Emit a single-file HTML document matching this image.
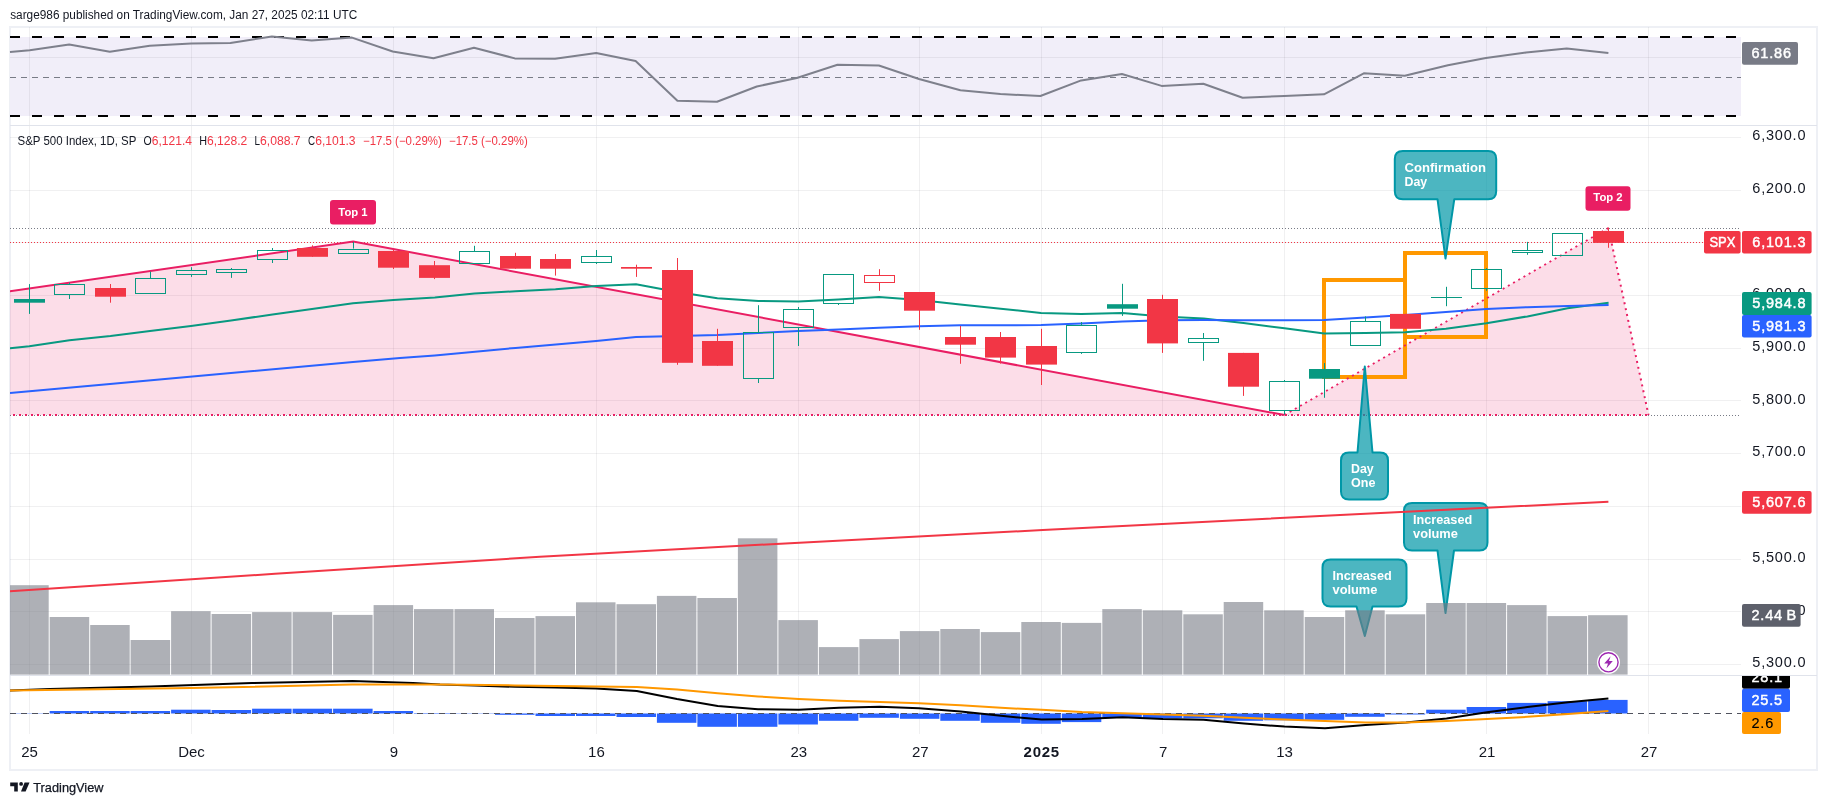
<!DOCTYPE html>
<html><head><meta charset="utf-8"><title>SPX chart</title>
<style>html,body{margin:0;padding:0;background:#fff;}body{width:1827px;height:805px;position:relative;overflow:hidden;font-family:"Liberation Sans", sans-serif;}</style></head>
<body>
<svg width="1827" height="805" viewBox="0 0 1827 805" style="position:absolute;left:0;top:0;font-family:'Liberation Sans', sans-serif;">
<defs><filter id="noop" filterUnits="userSpaceOnUse" x="0" y="0" width="1827" height="805"><feOffset dx="0" dy="0"/></filter><clipPath id="cm"><rect x="10" y="126" width="1731" height="549"/></clipPath><clipPath id="cd"><rect x="10" y="676" width="1807" height="58"/></clipPath></defs>
<rect width="1827" height="805" fill="#fff"/>
<g filter="url(#noop)">
<rect x="9" y="26" width="1809" height="2" fill="#eef0f5"/>
<rect x="9" y="769" width="1809" height="2" fill="#eef0f5"/>
<rect x="9" y="26" width="2" height="745" fill="#eef0f5"/>
<rect x="1816" y="26" width="2" height="745" fill="#eef0f5"/>
<rect x="10" y="37" width="1731" height="79" fill="#f1eef9"/>
<line x1="29.5" y1="27" x2="29.5" y2="734" stroke="rgba(42,46,57,0.07)" stroke-width="1"/>
<line x1="191.5" y1="27" x2="191.5" y2="734" stroke="rgba(42,46,57,0.07)" stroke-width="1"/>
<line x1="393.5" y1="27" x2="393.5" y2="734" stroke="rgba(42,46,57,0.07)" stroke-width="1"/>
<line x1="596.5" y1="27" x2="596.5" y2="734" stroke="rgba(42,46,57,0.07)" stroke-width="1"/>
<line x1="798.5" y1="27" x2="798.5" y2="734" stroke="rgba(42,46,57,0.07)" stroke-width="1"/>
<line x1="919.5" y1="27" x2="919.5" y2="734" stroke="rgba(42,46,57,0.07)" stroke-width="1"/>
<line x1="1041.5" y1="27" x2="1041.5" y2="734" stroke="rgba(42,46,57,0.07)" stroke-width="1"/>
<line x1="1162.5" y1="27" x2="1162.5" y2="734" stroke="rgba(42,46,57,0.07)" stroke-width="1"/>
<line x1="1284.5" y1="27" x2="1284.5" y2="734" stroke="rgba(42,46,57,0.07)" stroke-width="1"/>
<line x1="1486.5" y1="27" x2="1486.5" y2="734" stroke="rgba(42,46,57,0.07)" stroke-width="1"/>
<line x1="1648.5" y1="27" x2="1648.5" y2="734" stroke="rgba(42,46,57,0.07)" stroke-width="1"/>
<line x1="10" y1="664.5" x2="1741" y2="664.5" stroke="rgba(42,46,57,0.07)" stroke-width="1"/>
<line x1="10" y1="611.5" x2="1741" y2="611.5" stroke="rgba(42,46,57,0.07)" stroke-width="1"/>
<line x1="10" y1="559.5" x2="1741" y2="559.5" stroke="rgba(42,46,57,0.07)" stroke-width="1"/>
<line x1="10" y1="506.5" x2="1741" y2="506.5" stroke="rgba(42,46,57,0.07)" stroke-width="1"/>
<line x1="10" y1="453.5" x2="1741" y2="453.5" stroke="rgba(42,46,57,0.07)" stroke-width="1"/>
<line x1="10" y1="400.5" x2="1741" y2="400.5" stroke="rgba(42,46,57,0.07)" stroke-width="1"/>
<line x1="10" y1="348.5" x2="1741" y2="348.5" stroke="rgba(42,46,57,0.07)" stroke-width="1"/>
<line x1="10" y1="295.5" x2="1741" y2="295.5" stroke="rgba(42,46,57,0.07)" stroke-width="1"/>
<line x1="10" y1="242.5" x2="1741" y2="242.5" stroke="rgba(42,46,57,0.07)" stroke-width="1"/>
<line x1="10" y1="190.5" x2="1741" y2="190.5" stroke="rgba(42,46,57,0.07)" stroke-width="1"/>
<line x1="10" y1="137.5" x2="1741" y2="137.5" stroke="rgba(42,46,57,0.07)" stroke-width="1"/>
<line x1="10" y1="57.5" x2="1741" y2="57.5" stroke="rgba(42,46,57,0.07)" stroke-width="1"/>
<line x1="10" y1="37" x2="1741" y2="37" stroke="#000" stroke-width="2" stroke-dasharray="10 12"/>
<line x1="10" y1="116" x2="1741" y2="116" stroke="#000" stroke-width="2" stroke-dasharray="10 12"/>
<line x1="10" y1="77.5" x2="1741" y2="77.5" stroke="#787b86" stroke-width="1" stroke-dasharray="6 5"/>
<polyline points="10.0,52.0 29.7,50.2 69.2,44.4 109.8,51.7 149.8,45.7 191.3,43.4 230.4,42.9 271.9,36.4 311.7,40.6 352.0,37.6 392.7,51.5 433.5,58.3 474.0,47.8 514.8,58.4 555.1,58.7 596.2,52.9 635.6,61.1 677.4,100.8 717.0,101.8 756.8,86.5 796.8,78.0 837.5,64.8 878.9,65.5 919.0,79.0 960.4,90.3 1000.4,94.0 1040.4,96.0 1081.2,80.4 1121.9,74.0 1161.6,85.9 1203.3,83.8 1242.6,97.7 1284.4,96.0 1324.0,94.3 1363.8,73.3 1404.8,75.7 1447.9,65.2 1485.9,58.0 1526.0,52.6 1566.7,48.5 1608.4,52.9" fill="none" stroke="#7e808c" stroke-width="2" stroke-linejoin="round"/>
<g clip-path="url(#cm)">
<polygon points="10.0,291.3 353.2,241.6 1284.5,415.0 10.0,415.0" fill="rgba(233,30,99,0.15)"/>
<polygon points="1284.5,415.0 1608.4,228.0 1648.5,415.0" fill="rgba(233,30,99,0.15)"/>
<rect x="1324" y="280" width="81" height="97" fill="none" stroke="#ff9800" stroke-width="4"/>
<rect x="1405" y="253" width="81" height="84" fill="none" stroke="#ff9800" stroke-width="4"/>
<line x1="10" y1="228.5" x2="1739" y2="228.5" stroke="#787b86" stroke-width="1" stroke-dasharray="1 2"/>
<line x1="10" y1="415.5" x2="1739" y2="415.5" stroke="#787b86" stroke-width="1" stroke-dasharray="1 2"/>
<line x1="10" y1="242.5" x2="1704" y2="242.5" stroke="#f23645" stroke-width="1" stroke-dasharray="1 2"/>
<line x1="7" y1="415" x2="1648.5" y2="415" stroke="#e91e63" stroke-width="2" stroke-dasharray="2 4"/>
<polyline points="-10.0,294.2 353.2,241.6 1284.5,415.0" fill="none" stroke="#e91e63" stroke-width="2" stroke-linejoin="miter"/>
<polyline points="1284.5,415.0 1608.4,228.0 1648.5,415.0" fill="none" stroke="#e91e63" stroke-width="2" stroke-dasharray="2 4"/>
<path d="M1402.8,151 L1488.2,151 Q1496.2,151 1496.2,159 L1496.2,191.2 Q1496.2,199.2 1488.2,199.2 L1454.3,199.2 L1445.5,258.5 L1437.5,199.2 L1402.8,199.2 Q1394.8,199.2 1394.8,191.2 L1394.8,159 Q1394.8,151 1402.8,151 Z" fill="rgba(0,151,167,0.7)" stroke="#0097a7" stroke-width="2" stroke-linejoin="round"/>
<text x="1404.5" y="172" font-size="13.2" font-weight="bold" fill="#fff" textLength="81.4" lengthAdjust="spacingAndGlyphs">Confirmation</text>
<text x="1404.5" y="186" font-size="13.2" font-weight="bold" fill="#fff" textLength="22.7" lengthAdjust="spacingAndGlyphs">Day</text>
<path d="M1349,452.5 L1357.5,452.5 L1364.8,366.5 L1372.5,452.5 L1380,452.5 Q1388,452.5 1388,460.5 L1388,491.5 Q1388,499.5 1380,499.5 L1349,499.5 Q1341,499.5 1341,491.5 L1341,460.5 Q1341,452.5 1349,452.5 Z" fill="rgba(0,151,167,0.7)" stroke="#0097a7" stroke-width="2" stroke-linejoin="round"/>
<text x="1351" y="473" font-size="13.2" font-weight="bold" fill="#fff" textLength="22.7" lengthAdjust="spacingAndGlyphs">Day</text>
<text x="1351" y="487" font-size="13.2" font-weight="bold" fill="#fff" textLength="24.4" lengthAdjust="spacingAndGlyphs">One</text>
<path d="M1330.5,559.5 L1398.5,559.5 Q1406.5,559.5 1406.5,567.5 L1406.5,598.5 Q1406.5,606.5 1398.5,606.5 L1372.5,606.5 L1364.8,636 L1356.5,606.5 L1330.5,606.5 Q1322.5,606.5 1322.5,598.5 L1322.5,567.5 Q1322.5,559.5 1330.5,559.5 Z" fill="rgba(0,151,167,0.7)" stroke="#0097a7" stroke-width="2" stroke-linejoin="round"/>
<text x="1332.5" y="580" font-size="13.2" font-weight="bold" fill="#fff" textLength="59.2" lengthAdjust="spacingAndGlyphs">Increased</text>
<text x="1332.5" y="594" font-size="13.2" font-weight="bold" fill="#fff" textLength="44.9" lengthAdjust="spacingAndGlyphs">volume</text>
<path d="M1412,503 L1479.5,503 Q1487.5,503 1487.5,511 L1487.5,542.5 Q1487.5,550.5 1479.5,550.5 L1454,550.5 L1445.5,613 L1437.5,550.5 L1412,550.5 Q1404,550.5 1404,542.5 L1404,511 Q1404,503 1412,503 Z" fill="rgba(0,151,167,0.7)" stroke="#0097a7" stroke-width="2" stroke-linejoin="round"/>
<text x="1413" y="524" font-size="13.2" font-weight="bold" fill="#fff" textLength="59.2" lengthAdjust="spacingAndGlyphs">Increased</text>
<text x="1413" y="538" font-size="13.2" font-weight="bold" fill="#fff" textLength="44.9" lengthAdjust="spacingAndGlyphs">volume</text>
<rect x="330" y="200" width="46" height="24.5" rx="3" fill="#e91e63"/>
<text x="353" y="216.3" font-size="11.3" font-weight="bold" fill="#fff" text-anchor="middle">Top 1</text>
<rect x="1585.5" y="186.3" width="45" height="24.5" rx="3" fill="#e91e63"/>
<text x="1608" y="201.4" font-size="11.3" font-weight="bold" fill="#fff" text-anchor="middle">Top 2</text>
<rect x="10.0" y="585.2" width="38.7" height="89.4" fill="rgba(120,123,134,0.6)"/>
<rect x="49.7" y="617.0" width="39.5" height="57.6" fill="rgba(120,123,134,0.6)"/>
<rect x="90.2" y="625.0" width="39.5" height="49.6" fill="rgba(120,123,134,0.6)"/>
<rect x="130.6" y="640.0" width="39.5" height="34.6" fill="rgba(120,123,134,0.6)"/>
<rect x="171.1" y="611.2" width="39.5" height="63.4" fill="rgba(120,123,134,0.6)"/>
<rect x="211.6" y="614.0" width="39.5" height="60.6" fill="rgba(120,123,134,0.6)"/>
<rect x="252.1" y="612.1" width="39.5" height="62.5" fill="rgba(120,123,134,0.6)"/>
<rect x="292.6" y="612.1" width="39.5" height="62.5" fill="rgba(120,123,134,0.6)"/>
<rect x="333.1" y="614.9" width="39.5" height="59.7" fill="rgba(120,123,134,0.6)"/>
<rect x="373.6" y="605.1" width="39.5" height="69.5" fill="rgba(120,123,134,0.6)"/>
<rect x="414.0" y="609.1" width="39.5" height="65.5" fill="rgba(120,123,134,0.6)"/>
<rect x="454.5" y="609.1" width="39.5" height="65.5" fill="rgba(120,123,134,0.6)"/>
<rect x="495.0" y="618.0" width="39.5" height="56.6" fill="rgba(120,123,134,0.6)"/>
<rect x="535.5" y="616.1" width="39.5" height="58.5" fill="rgba(120,123,134,0.6)"/>
<rect x="576.0" y="602.3" width="39.5" height="72.3" fill="rgba(120,123,134,0.6)"/>
<rect x="616.5" y="604.2" width="39.5" height="70.4" fill="rgba(120,123,134,0.6)"/>
<rect x="656.9" y="595.9" width="39.5" height="78.7" fill="rgba(120,123,134,0.6)"/>
<rect x="697.4" y="598.0" width="39.5" height="76.6" fill="rgba(120,123,134,0.6)"/>
<rect x="737.9" y="538.3" width="39.5" height="136.3" fill="rgba(120,123,134,0.6)"/>
<rect x="778.4" y="620.1" width="39.5" height="54.5" fill="rgba(120,123,134,0.6)"/>
<rect x="818.9" y="647.1" width="39.5" height="27.5" fill="rgba(120,123,134,0.6)"/>
<rect x="859.4" y="639.1" width="39.5" height="35.5" fill="rgba(120,123,134,0.6)"/>
<rect x="899.9" y="631.1" width="39.5" height="43.5" fill="rgba(120,123,134,0.6)"/>
<rect x="940.3" y="629.0" width="39.5" height="45.6" fill="rgba(120,123,134,0.6)"/>
<rect x="980.8" y="632.1" width="39.5" height="42.5" fill="rgba(120,123,134,0.6)"/>
<rect x="1021.3" y="622.0" width="39.5" height="52.6" fill="rgba(120,123,134,0.6)"/>
<rect x="1061.8" y="622.9" width="39.5" height="51.7" fill="rgba(120,123,134,0.6)"/>
<rect x="1102.3" y="609.1" width="39.5" height="65.5" fill="rgba(120,123,134,0.6)"/>
<rect x="1142.8" y="610.3" width="39.5" height="64.3" fill="rgba(120,123,134,0.6)"/>
<rect x="1183.3" y="614.3" width="39.5" height="60.3" fill="rgba(120,123,134,0.6)"/>
<rect x="1223.7" y="602.0" width="39.5" height="72.6" fill="rgba(120,123,134,0.6)"/>
<rect x="1264.2" y="610.3" width="39.5" height="64.3" fill="rgba(120,123,134,0.6)"/>
<rect x="1304.7" y="617.0" width="39.5" height="57.6" fill="rgba(120,123,134,0.6)"/>
<rect x="1345.2" y="610.3" width="39.5" height="64.3" fill="rgba(120,123,134,0.6)"/>
<rect x="1385.7" y="614.3" width="39.5" height="60.3" fill="rgba(120,123,134,0.6)"/>
<rect x="1426.2" y="603.0" width="39.5" height="71.6" fill="rgba(120,123,134,0.6)"/>
<rect x="1466.6" y="603.0" width="39.5" height="71.6" fill="rgba(120,123,134,0.6)"/>
<rect x="1507.1" y="605.1" width="39.5" height="69.5" fill="rgba(120,123,134,0.6)"/>
<rect x="1547.6" y="616.1" width="39.5" height="58.5" fill="rgba(120,123,134,0.6)"/>
<rect x="1588.1" y="615.2" width="39.5" height="59.4" fill="rgba(120,123,134,0.6)"/>
<polyline points="10.0,591.3 275.0,573.8 540.0,556.7 790.0,543.2 1042.7,530.0 1325.0,515.7 1608.4,501.8" fill="none" stroke="#f23645" stroke-width="2"/>
<polyline points="10.0,348.2 29.3,346.2 69.5,340.2 110.5,336.0 150.0,331.0 191.0,326.0 231.0,320.6 272.5,314.4 312.0,309.0 353.0,303.2 393.4,300.0 434.8,297.5 474.5,293.5 515.5,291.3 555.5,289.3 596.2,286.1 636.0,284.3 677.4,292.0 717.4,298.2 758.4,301.0 798.4,301.5 838.5,299.5 879.0,297.0 919.2,300.0 960.2,304.5 1000.7,308.7 1041.0,312.9 1081.4,313.9 1122.4,313.1 1162.6,316.4 1203.6,318.4 1243.5,323.1 1284.5,328.3 1324.2,333.5 1365.2,333.0 1405.4,332.3 1445.9,328.8 1486.4,323.3 1527.4,316.4 1567.6,308.2 1608.6,302.7" fill="none" stroke="#089981" stroke-width="2" stroke-linejoin="round"/>
<polyline points="10.0,393.1 110.0,384.0 231.0,373.0 353.0,362.0 400.0,357.9 434.8,355.4 515.5,347.9 596.2,341.0 636.0,337.0 677.4,336.0 717.4,335.0 758.4,333.0 798.4,331.0 838.5,329.5 879.0,327.8 919.2,326.3 960.0,325.3 1000.7,325.3 1041.0,325.0 1081.4,323.6 1122.4,321.6 1162.6,320.3 1203.6,319.9 1243.5,320.3 1284.5,320.3 1324.2,319.9 1365.2,317.4 1405.4,315.1 1445.9,311.9 1486.4,308.9 1527.4,307.2 1567.6,305.9 1608.6,304.9" fill="none" stroke="#2962ff" stroke-width="2" stroke-linejoin="round"/>
<line x1="29.5" y1="284.1" x2="29.5" y2="313.9" stroke="#089981" stroke-width="1"/>
<rect x="14" y="299.0" width="31" height="3.7" fill="#089981"/>
<line x1="69.5" y1="282.6" x2="69.5" y2="284.3" stroke="#089981" stroke-width="1"/>
<line x1="69.5" y1="294.5" x2="69.5" y2="299.0" stroke="#089981" stroke-width="1"/>
<rect x="54.5" y="284.5" width="30" height="10" fill="none" stroke="#089981" stroke-width="1"/>
<line x1="110.5" y1="284.0" x2="110.5" y2="302.7" stroke="#f23645" stroke-width="1"/>
<rect x="95" y="288.0" width="31" height="8.7" fill="#f23645"/>
<line x1="150.5" y1="271.7" x2="150.5" y2="278.4" stroke="#089981" stroke-width="1"/>
<rect x="135.5" y="278.5" width="30" height="15" fill="none" stroke="#089981" stroke-width="1"/>
<line x1="191.5" y1="267.2" x2="191.5" y2="270.4" stroke="#089981" stroke-width="1"/>
<line x1="191.5" y1="274.4" x2="191.5" y2="276.9" stroke="#089981" stroke-width="1"/>
<rect x="176.5" y="270.5" width="30" height="4" fill="none" stroke="#089981" stroke-width="1"/>
<line x1="231.5" y1="268.0" x2="231.5" y2="269.4" stroke="#089981" stroke-width="1"/>
<line x1="231.5" y1="272.4" x2="231.5" y2="277.9" stroke="#089981" stroke-width="1"/>
<rect x="216.5" y="269.5" width="30" height="3" fill="none" stroke="#089981" stroke-width="1"/>
<line x1="272.5" y1="248.0" x2="272.5" y2="250.3" stroke="#089981" stroke-width="1"/>
<line x1="272.5" y1="259.5" x2="272.5" y2="263.0" stroke="#089981" stroke-width="1"/>
<rect x="257.5" y="250.5" width="30" height="9" fill="none" stroke="#089981" stroke-width="1"/>
<line x1="312.5" y1="245.3" x2="312.5" y2="256.8" stroke="#f23645" stroke-width="1"/>
<rect x="297" y="248.0" width="31" height="8.8" fill="#f23645"/>
<line x1="353.5" y1="241.9" x2="353.5" y2="248.6" stroke="#089981" stroke-width="1"/>
<rect x="338.5" y="249.5" width="30" height="4" fill="none" stroke="#089981" stroke-width="1"/>
<line x1="393.5" y1="249.8" x2="393.5" y2="269.0" stroke="#f23645" stroke-width="1"/>
<rect x="378" y="251.0" width="31" height="16.7" fill="#f23645"/>
<line x1="434.5" y1="261.0" x2="434.5" y2="279.1" stroke="#f23645" stroke-width="1"/>
<rect x="419" y="265.2" width="31" height="12.7" fill="#f23645"/>
<line x1="474.5" y1="245.8" x2="474.5" y2="251.3" stroke="#089981" stroke-width="1"/>
<rect x="459.5" y="251.5" width="30" height="12" fill="none" stroke="#089981" stroke-width="1"/>
<line x1="515.5" y1="252.8" x2="515.5" y2="268.7" stroke="#f23645" stroke-width="1"/>
<rect x="500" y="256.0" width="31" height="12.7" fill="#f23645"/>
<line x1="555.5" y1="254.0" x2="555.5" y2="275.6" stroke="#f23645" stroke-width="1"/>
<rect x="540" y="259.0" width="31" height="9.7" fill="#f23645"/>
<line x1="596.5" y1="250.0" x2="596.5" y2="256.5" stroke="#089981" stroke-width="1"/>
<line x1="596.5" y1="262.5" x2="596.5" y2="264.0" stroke="#089981" stroke-width="1"/>
<rect x="581.5" y="256.5" width="30" height="6" fill="none" stroke="#089981" stroke-width="1"/>
<line x1="636.5" y1="264.7" x2="636.5" y2="276.9" stroke="#f23645" stroke-width="1"/>
<rect x="621" y="267.0" width="31" height="1.7" fill="#f23645"/>
<line x1="677.5" y1="258.0" x2="677.5" y2="364.8" stroke="#f23645" stroke-width="1"/>
<rect x="662" y="270.0" width="31" height="92.8" fill="#f23645"/>
<line x1="717.5" y1="328.8" x2="717.5" y2="365.8" stroke="#f23645" stroke-width="1"/>
<rect x="702" y="341.0" width="31" height="24.8" fill="#f23645"/>
<line x1="758.5" y1="305.2" x2="758.5" y2="332.5" stroke="#089981" stroke-width="1"/>
<line x1="758.5" y1="378.5" x2="758.5" y2="383.0" stroke="#089981" stroke-width="1"/>
<rect x="743.5" y="332.5" width="30" height="46" fill="none" stroke="#089981" stroke-width="1"/>
<line x1="798.5" y1="307.0" x2="798.5" y2="309.2" stroke="#089981" stroke-width="1"/>
<line x1="798.5" y1="327.6" x2="798.5" y2="346.0" stroke="#089981" stroke-width="1"/>
<rect x="783.5" y="309.5" width="30" height="18" fill="none" stroke="#089981" stroke-width="1"/>
<line x1="838.5" y1="303.5" x2="838.5" y2="305.0" stroke="#089981" stroke-width="1"/>
<rect x="823.5" y="274.5" width="30" height="29" fill="none" stroke="#089981" stroke-width="1"/>
<line x1="879.5" y1="269.2" x2="879.5" y2="275.4" stroke="#f23645" stroke-width="1"/>
<line x1="879.5" y1="282.3" x2="879.5" y2="290.8" stroke="#f23645" stroke-width="1"/>
<rect x="864.5" y="275.5" width="30" height="7" fill="none" stroke="#f23645" stroke-width="1"/>
<line x1="919.5" y1="292.0" x2="919.5" y2="329.8" stroke="#f23645" stroke-width="1"/>
<rect x="904" y="292.0" width="31" height="18.7" fill="#f23645"/>
<line x1="960.5" y1="326.0" x2="960.5" y2="363.8" stroke="#f23645" stroke-width="1"/>
<rect x="945" y="337.0" width="31" height="7.7" fill="#f23645"/>
<line x1="1000.5" y1="332.0" x2="1000.5" y2="363.6" stroke="#f23645" stroke-width="1"/>
<rect x="985" y="337.0" width="31" height="20.6" fill="#f23645"/>
<line x1="1041.5" y1="328.8" x2="1041.5" y2="385.0" stroke="#f23645" stroke-width="1"/>
<rect x="1026" y="346.0" width="31" height="18.6" fill="#f23645"/>
<line x1="1081.5" y1="322.0" x2="1081.5" y2="325.0" stroke="#089981" stroke-width="1"/>
<line x1="1081.5" y1="352.4" x2="1081.5" y2="353.9" stroke="#089981" stroke-width="1"/>
<rect x="1066.5" y="325.5" width="30" height="27" fill="none" stroke="#089981" stroke-width="1"/>
<line x1="1122.5" y1="283.8" x2="1122.5" y2="315.9" stroke="#089981" stroke-width="1"/>
<rect x="1107" y="304.2" width="31" height="4.5" fill="#089981"/>
<line x1="1162.5" y1="294.8" x2="1162.5" y2="352.9" stroke="#f23645" stroke-width="1"/>
<rect x="1147" y="299.0" width="31" height="44.4" fill="#f23645"/>
<line x1="1203.5" y1="333.0" x2="1203.5" y2="338.5" stroke="#089981" stroke-width="1"/>
<line x1="1203.5" y1="342.5" x2="1203.5" y2="360.8" stroke="#089981" stroke-width="1"/>
<rect x="1188.5" y="338.5" width="30" height="4" fill="none" stroke="#089981" stroke-width="1"/>
<line x1="1243.5" y1="352.9" x2="1243.5" y2="395.9" stroke="#f23645" stroke-width="1"/>
<rect x="1228" y="352.9" width="31" height="33.8" fill="#f23645"/>
<line x1="1284.5" y1="380.0" x2="1284.5" y2="381.2" stroke="#089981" stroke-width="1"/>
<line x1="1284.5" y1="410.5" x2="1284.5" y2="414.5" stroke="#089981" stroke-width="1"/>
<rect x="1269.5" y="381.5" width="30" height="29" fill="none" stroke="#089981" stroke-width="1"/>
<line x1="1324.5" y1="363.0" x2="1324.5" y2="397.8" stroke="#089981" stroke-width="1"/>
<rect x="1309" y="369.0" width="31" height="9.7" fill="#089981"/>
<line x1="1365.5" y1="316.4" x2="1365.5" y2="321.1" stroke="#089981" stroke-width="1"/>
<rect x="1350.5" y="321.5" width="30" height="24" fill="none" stroke="#089981" stroke-width="1"/>
<line x1="1405.5" y1="313.9" x2="1405.5" y2="328.8" stroke="#f23645" stroke-width="1"/>
<rect x="1390" y="313.9" width="31" height="14.9" fill="#f23645"/>
<line x1="1446.5" y1="286.8" x2="1446.5" y2="306.2" stroke="#089981" stroke-width="1"/>
<line x1="1431" y1="297.5" x2="1462" y2="297.5" stroke="#089981" stroke-width="1"/>
<line x1="1486.5" y1="268.0" x2="1486.5" y2="269.2" stroke="#089981" stroke-width="1"/>
<line x1="1486.5" y1="288.6" x2="1486.5" y2="290.8" stroke="#089981" stroke-width="1"/>
<rect x="1471.5" y="269.5" width="30" height="19" fill="none" stroke="#089981" stroke-width="1"/>
<line x1="1527.5" y1="241.9" x2="1527.5" y2="250.0" stroke="#089981" stroke-width="1"/>
<line x1="1527.5" y1="252.3" x2="1527.5" y2="254.8" stroke="#089981" stroke-width="1"/>
<rect x="1512.5" y="250.5" width="30" height="2" fill="none" stroke="#089981" stroke-width="1"/>
<rect x="1552.5" y="233.5" width="30" height="22" fill="none" stroke="#089981" stroke-width="1"/>
<line x1="1608.5" y1="227.5" x2="1608.5" y2="247.8" stroke="#f23645" stroke-width="1"/>
<rect x="1593" y="231.0" width="31" height="11.9" fill="#f23645"/>
<circle cx="1608.5" cy="662.3" r="11.5" fill="#fff"/>
<circle cx="1608.5" cy="662.3" r="9.6" fill="#fff" stroke="#9c27b0" stroke-width="1.4"/>
<path d="M1610.6,656.2 L1604.2,663.6 L1608,663.6 L1606.4,668.4 L1612.8,661 L1609,661 Z" fill="#9c27b0"/>
</g>
<g clip-path="url(#cd)">
<rect x="10.0" y="713.2" width="38.7" height="0.3" fill="#2962ff"/>
<rect x="49.7" y="711.0" width="39.5" height="2.5" fill="#2962ff"/>
<rect x="90.2" y="711.0" width="39.5" height="2.5" fill="#2962ff"/>
<rect x="130.6" y="711.0" width="39.5" height="2.5" fill="#2962ff"/>
<rect x="171.1" y="709.7" width="39.5" height="3.8" fill="#2962ff"/>
<rect x="211.6" y="710.0" width="39.5" height="3.5" fill="#2962ff"/>
<rect x="252.1" y="708.7" width="39.5" height="4.8" fill="#2962ff"/>
<rect x="292.6" y="708.7" width="39.5" height="4.8" fill="#2962ff"/>
<rect x="333.1" y="708.7" width="39.5" height="4.8" fill="#2962ff"/>
<rect x="373.6" y="711.0" width="39.5" height="2.5" fill="#2962ff"/>
<rect x="414.0" y="713.0" width="39.5" height="0.5" fill="#2962ff"/>
<rect x="454.5" y="713.2" width="39.5" height="0.3" fill="#2962ff"/>
<rect x="495.0" y="713.5" width="39.5" height="1.3" fill="#2962ff"/>
<rect x="535.5" y="713.5" width="39.5" height="2.5" fill="#2962ff"/>
<rect x="576.0" y="713.5" width="39.5" height="2.5" fill="#2962ff"/>
<rect x="616.5" y="713.5" width="39.5" height="3.5" fill="#2962ff"/>
<rect x="656.9" y="713.5" width="39.5" height="9.3" fill="#2962ff"/>
<rect x="697.4" y="713.5" width="39.5" height="13.3" fill="#2962ff"/>
<rect x="737.9" y="713.5" width="39.5" height="13.3" fill="#2962ff"/>
<rect x="778.4" y="713.5" width="39.5" height="11.0" fill="#2962ff"/>
<rect x="818.9" y="713.5" width="39.5" height="7.3" fill="#2962ff"/>
<rect x="859.4" y="713.5" width="39.5" height="4.3" fill="#2962ff"/>
<rect x="899.9" y="713.5" width="39.5" height="5.3" fill="#2962ff"/>
<rect x="940.3" y="713.5" width="39.5" height="7.3" fill="#2962ff"/>
<rect x="980.8" y="713.5" width="39.5" height="9.3" fill="#2962ff"/>
<rect x="1021.3" y="713.5" width="39.5" height="10.3" fill="#2962ff"/>
<rect x="1061.8" y="713.5" width="39.5" height="8.6" fill="#2962ff"/>
<rect x="1102.3" y="713.5" width="39.5" height="4.3" fill="#2962ff"/>
<rect x="1142.8" y="713.5" width="39.5" height="4.8" fill="#2962ff"/>
<rect x="1183.3" y="713.5" width="39.5" height="4.8" fill="#2962ff"/>
<rect x="1223.7" y="713.5" width="39.5" height="7.3" fill="#2962ff"/>
<rect x="1264.2" y="713.5" width="39.5" height="6.8" fill="#2962ff"/>
<rect x="1304.7" y="713.5" width="39.5" height="6.3" fill="#2962ff"/>
<rect x="1345.2" y="713.5" width="39.5" height="3.3" fill="#2962ff"/>
<rect x="1385.7" y="713.5" width="39.5" height="1.0" fill="#2962ff"/>
<rect x="1426.2" y="709.7" width="39.5" height="3.8" fill="#2962ff"/>
<rect x="1466.6" y="707.0" width="39.5" height="6.5" fill="#2962ff"/>
<rect x="1507.1" y="702.9" width="39.5" height="10.6" fill="#2962ff"/>
<rect x="1547.6" y="701.2" width="39.5" height="12.3" fill="#2962ff"/>
<rect x="1588.1" y="699.9" width="39.5" height="13.6" fill="#2962ff"/>
<line x1="10" y1="713.5" x2="1741" y2="713.5" stroke="#50535e" stroke-width="1" stroke-dasharray="6 5"/>
<polyline points="10.0,690.6 50.0,689.1 151.0,686.4 252.0,683.1 352.5,681.1 413.0,683.1 440.0,684.6 474.8,685.6 515.3,686.8 555.8,687.6 596.0,688.4 636.8,690.9 677.0,699.0 717.7,706.0 758.0,709.3 798.7,709.8 839.0,707.8 879.7,706.8 919.0,708.3 960.6,711.5 1001.0,715.8 1041.6,719.6 1082.0,719.1 1122.6,717.3 1163.0,719.1 1203.5,719.8 1244.0,723.6 1284.5,726.6 1325.0,728.2 1365.5,724.9 1406.0,722.4 1446.5,718.6 1487.0,712.3 1527.4,707.0 1568.0,702.2 1608.4,698.4" fill="none" stroke="#000" stroke-width="2" stroke-linejoin="round"/>
<polyline points="10.0,690.4 191.0,688.0 352.0,684.6 440.0,684.6 515.0,685.4 596.0,686.4 636.8,687.1 677.0,689.6 717.7,693.2 758.0,696.4 798.7,699.0 839.0,700.7 879.7,702.0 919.0,703.2 960.6,705.2 1001.0,707.8 1041.6,709.8 1082.0,712.0 1122.6,713.3 1163.0,714.6 1203.5,715.8 1244.0,717.8 1284.5,719.6 1325.0,721.1 1365.5,722.4 1406.0,722.4 1446.5,721.1 1487.0,719.1 1527.4,716.8 1568.0,714.1 1608.4,711.0" fill="none" stroke="#ff9800" stroke-width="2" stroke-linejoin="round"/>
</g>
<line x1="10" y1="125.5" x2="1817" y2="125.5" stroke="#e0e3eb" stroke-width="1"/>
<line x1="10" y1="675.5" x2="1817" y2="675.5" stroke="#e0e3eb" stroke-width="1"/>
<text x="1752.3" y="140.2" font-size="14.5" font-weight="normal" fill="#131722" letter-spacing="0.8">6,300.0</text>
<text x="1752.3" y="192.9" font-size="14.5" font-weight="normal" fill="#131722" letter-spacing="0.8">6,200.0</text>
<text x="1752.3" y="298.3" font-size="14.5" font-weight="normal" fill="#131722" letter-spacing="0.8">6,000.0</text>
<text x="1752.3" y="351.0" font-size="14.5" font-weight="normal" fill="#131722" letter-spacing="0.8">5,900.0</text>
<text x="1752.3" y="403.7" font-size="14.5" font-weight="normal" fill="#131722" letter-spacing="0.8">5,800.0</text>
<text x="1752.3" y="456.4" font-size="14.5" font-weight="normal" fill="#131722" letter-spacing="0.8">5,700.0</text>
<text x="1752.3" y="561.8" font-size="14.5" font-weight="normal" fill="#131722" letter-spacing="0.8">5,500.0</text>
<text x="1752.3" y="614.5" font-size="14.5" font-weight="normal" fill="#131722" letter-spacing="0.8">5,400.0</text>
<text x="1752.3" y="667.2" font-size="14.5" font-weight="normal" fill="#131722" letter-spacing="0.8">5,300.0</text>
<rect x="1742" y="42" width="56" height="22.700000000000003" rx="2" fill="#787b86"/>
<text x="1751.5" y="58.1" font-size="14.5" font-weight="normal" fill="#fff" stroke="#fff" stroke-width="0.45" letter-spacing="0.8">61.86</text>
<rect x="1704" y="231" width="36.59999999999991" height="22.5" rx="2" fill="#f23645"/>
<text x="1709.4" y="247.1" font-size="14.5" font-weight="normal" fill="#fff" stroke="#fff" stroke-width="0.45" textLength="26" lengthAdjust="spacingAndGlyphs">SPX</text>
<rect x="1742" y="231" width="69.59999999999991" height="22.5" rx="2" fill="#f23645"/>
<text x="1752.3" y="247.1" font-size="14.5" font-weight="normal" fill="#fff" stroke="#fff" stroke-width="0.45" letter-spacing="0.8">6,101.3</text>
<rect x="1742" y="292" width="69.59999999999991" height="23" rx="2" fill="#089981"/>
<text x="1752.3" y="308.3" font-size="14.5" font-weight="normal" fill="#fff" stroke="#fff" stroke-width="0.45" letter-spacing="0.8">5,984.8</text>
<rect x="1742" y="315" width="69.59999999999991" height="22.5" rx="2" fill="#2962ff"/>
<text x="1752.3" y="331.1" font-size="14.5" font-weight="normal" fill="#fff" stroke="#fff" stroke-width="0.45" letter-spacing="0.8">5,981.3</text>
<rect x="1742" y="491" width="69.59999999999991" height="22.700000000000045" rx="2" fill="#f23645"/>
<text x="1752.3" y="507.2" font-size="14.5" font-weight="normal" fill="#fff" stroke="#fff" stroke-width="0.45" letter-spacing="0.8">5,607.6</text>
<rect x="1742" y="604" width="58.59999999999991" height="22.700000000000045" rx="2" fill="#5d606b"/>
<text x="1751.5" y="620.1" font-size="14.5" font-weight="normal" fill="#fff" stroke="#fff" stroke-width="0.45" letter-spacing="0.8">2.44&#8201;B</text>
<g clip-path="url(#cd)">
<rect x="1742" y="665" width="48" height="23.799999999999955" rx="2" fill="#000"/>
<text x="1751.5" y="681.7" font-size="14.5" font-weight="normal" fill="#fff" stroke="#fff" stroke-width="0.45" letter-spacing="0.8">28.1</text>
<rect x="1742" y="688.8" width="48" height="23.200000000000045" rx="2" fill="#2962ff"/>
<text x="1751.5" y="705.2" font-size="14.5" font-weight="normal" fill="#fff" stroke="#fff" stroke-width="0.45" letter-spacing="0.8">25.5</text>
<rect x="1742" y="712" width="39" height="22" rx="2" fill="#ff9800"/>
<text x="1751.5" y="727.8" font-size="14.5" font-weight="normal" fill="#000" stroke="#000" stroke-width="0.15" letter-spacing="0.8">2.6</text>
</g>
<text x="29.6" y="756.9" font-size="15" text-anchor="middle" fill="#131722" font-weight="normal" letter-spacing="0">25</text>
<text x="191.5" y="756.9" font-size="15" text-anchor="middle" fill="#131722" font-weight="normal" letter-spacing="0">Dec</text>
<text x="394.0" y="756.9" font-size="15" text-anchor="middle" fill="#131722" font-weight="normal" letter-spacing="0">9</text>
<text x="596.4" y="756.9" font-size="15" text-anchor="middle" fill="#131722" font-weight="normal" letter-spacing="0">16</text>
<text x="798.8" y="756.9" font-size="15" text-anchor="middle" fill="#131722" font-weight="normal" letter-spacing="0">23</text>
<text x="920.3" y="756.9" font-size="15" text-anchor="middle" fill="#131722" font-weight="normal" letter-spacing="0">27</text>
<text x="1041.7" y="756.9" font-size="15" text-anchor="middle" fill="#131722" font-weight="bold" letter-spacing="0.7">2025</text>
<text x="1163.2" y="756.9" font-size="15" text-anchor="middle" fill="#131722" font-weight="normal" letter-spacing="0">7</text>
<text x="1284.6" y="756.9" font-size="15" text-anchor="middle" fill="#131722" font-weight="normal" letter-spacing="0">13</text>
<text x="1487.0" y="756.9" font-size="15" text-anchor="middle" fill="#131722" font-weight="normal" letter-spacing="0">21</text>
<text x="1649.0" y="756.9" font-size="15" text-anchor="middle" fill="#131722" font-weight="normal" letter-spacing="0">27</text>
<text x="10.2" y="18.5" font-size="12" textLength="347" lengthAdjust="spacingAndGlyphs" fill="#131722">sarge986 published on TradingView.com, Jan 27, 2025 02:11 UTC</text>
<text x="17.6" y="145" font-size="12" textLength="118.8" lengthAdjust="spacingAndGlyphs" fill="#131722">S&amp;P 500 Index, 1D, SP</text>
<text x="143.5" y="145" font-size="12" textLength="8.2" lengthAdjust="spacingAndGlyphs" fill="#131722">O</text>
<text x="151.7" y="145" font-size="12" textLength="40.3" lengthAdjust="spacingAndGlyphs" fill="#f23645">6,121.4</text>
<text x="199.2" y="145" font-size="12" textLength="7.8" lengthAdjust="spacingAndGlyphs" fill="#131722">H</text>
<text x="207" y="145" font-size="12" textLength="40.3" lengthAdjust="spacingAndGlyphs" fill="#f23645">6,128.2</text>
<text x="254.5" y="145" font-size="12" textLength="5.5" lengthAdjust="spacingAndGlyphs" fill="#131722">L</text>
<text x="260" y="145" font-size="12" textLength="40.6" lengthAdjust="spacingAndGlyphs" fill="#f23645">6,088.7</text>
<text x="308.1" y="145" font-size="12" textLength="7.1" lengthAdjust="spacingAndGlyphs" fill="#131722">C</text>
<text x="315.2" y="145" font-size="12" textLength="40.4" lengthAdjust="spacingAndGlyphs" fill="#f23645">6,101.3</text>
<text x="363" y="145" font-size="12" textLength="78.8" lengthAdjust="spacingAndGlyphs" fill="#f23645">−17.5 (−0.29%)</text>
<text x="449" y="145" font-size="12" textLength="78.7" lengthAdjust="spacingAndGlyphs" fill="#f23645">−17.5 (−0.29%)</text>
<g fill="#131722"><path d="M10.2,782.6 h7.6 v9 h-3.6 v-5.4 h-4 z"/><circle cx="21.1" cy="783.9" r="1.9"/><path d="M24.6,782.6 h4.9 l-3.9,9 h-4.6 z"/></g>
<text x="33.3" y="791.8" font-size="13" textLength="70.2" lengthAdjust="spacingAndGlyphs" fill="#131722" stroke="#131722" stroke-width="0.25">TradingView</text>
</g>
</svg>
</body></html>
